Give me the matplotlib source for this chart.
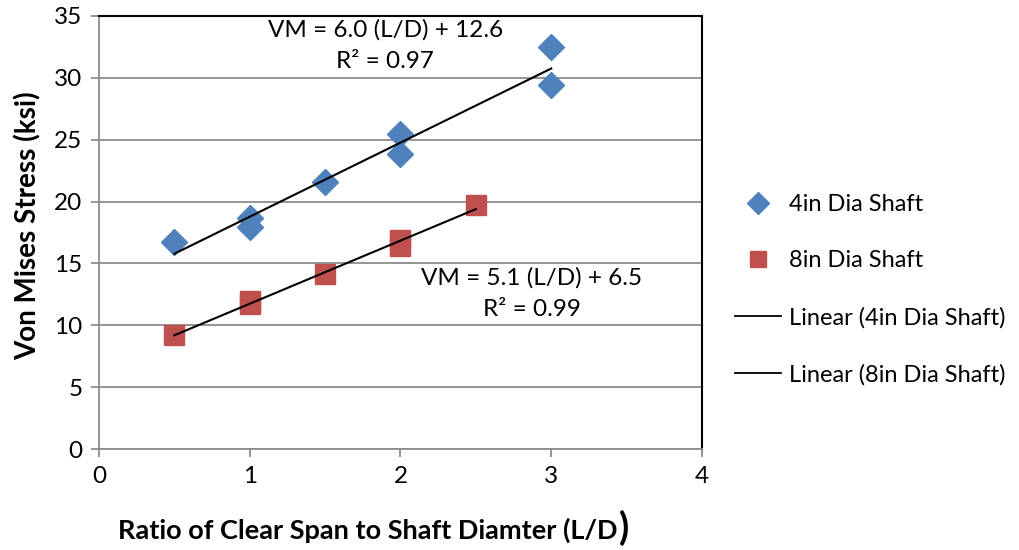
import numpy as np
import matplotlib
matplotlib.use("Agg")
import matplotlib.pyplot as plt
from matplotlib.lines import Line2D

plt.rcParams['font.family'] = ['Lato', 'DejaVu Sans']

# data
x4 = [0.5, 1.0, 1.0, 1.5, 2.0, 2.0, 3.0, 3.0]
y4 = [16.7, 18.7, 17.95, 21.6, 25.45, 23.85, 32.5, 29.4]
x8 = [0.5, 1.0, 1.0, 1.5, 2.0, 2.0, 2.5]
y8 = [9.2, 12.0, 11.7, 14.15, 16.9, 16.4, 19.7]
series_names = ["4in Dia Shaft", "8in Dia Shaft"]
eq_labels = ["VM = 6.0 (L/D) + 12.6\nR² = 0.97", "VM = 5.1 (L/D) + 6.5\nR² = 0.99"]
xticks = [0, 1, 2, 3, 4]
yticks = [0, 5, 10, 15, 20, 25, 30, 35]

blue = "#4F81BD"
red = "#C0504D"

W, H = 1020, 550
fig = plt.figure(figsize=(10.2, 5.5), dpi=100)
ax = fig.add_axes([99/W, 1-449/H, (702-99)/W, (449-16)/H])

ax.set_xlim(0, 4)
ax.set_ylim(0, 35)
ax.set_xticks(xticks)
ax.set_yticks(yticks)
ax.yaxis.grid(True, color="#8c8c8c", linewidth=1.3)
ax.set_axisbelow(True)

for s in ["left", "bottom"]:
    ax.spines[s].set_color("#8c8c8c")
    ax.spines[s].set_linewidth(1.3)
for s in ["top", "right"]:
    ax.spines[s].set_color("black")
    ax.spines[s].set_linewidth(1.5)
ax.tick_params(axis="both", direction="out", length=6, width=1.3, color="#8c8c8c",
               labelsize=17.5, pad=6)

ax.plot(x4, y4, linestyle="none", marker="D", markersize=13, color=blue, zorder=3)
ax.plot(x8, y8, linestyle="none", marker="s", markersize=14, color=red, zorder=3)

for xs, ys in [(x4, y4), (x8, y8)]:
    p = np.polyfit(xs, ys, 1)
    xx = np.array([min(xs), max(xs)])
    ax.plot(xx, np.polyval(p, xx), color="black", linewidth=1.5, zorder=4)

ax.text(1.90, 32.6, eq_labels[0], ha="center", va="center", fontsize=17.5, linespacing=1.6)
ax.text(2.87, 12.55, eq_labels[1], ha="center", va="center", fontsize=17.5, linespacing=1.6)

fig.text(28/W, 1-226/H, "Von Mises Stress (ksi)", rotation=90, ha="center", va="center",
         fontsize=20, fontweight="bold")
fig.text(618/W, 1-530/H, "Ratio of Clear Span to Shaft Diamter (L/D", ha="right", va="center",
         fontsize=19.5, fontweight="bold")
fig.text(619/W, 1-528/H, ")", ha="left", va="center", fontsize=27, fontweight="bold")

handles = [
    Line2D([], [], linestyle="none", marker="D", markersize=11, color=blue),
    Line2D([], [], linestyle="none", marker="s", markersize=12, color=red),
    Line2D([], [], color="black", linewidth=1.3),
    Line2D([], [], color="black", linewidth=1.3),
]
labels = series_names + ["Linear (4in Dia Shaft)", "Linear (8in Dia Shaft)"]
fig.legend(handles, labels, loc="center left", bbox_to_anchor=(735/W, 1-289.5/H),
           frameon=False, fontsize=17, labelspacing=1.5, handlelength=1.95, handletextpad=0.35,
           borderpad=0, borderaxespad=0)

fig.savefig("out.png", dpi=100)
